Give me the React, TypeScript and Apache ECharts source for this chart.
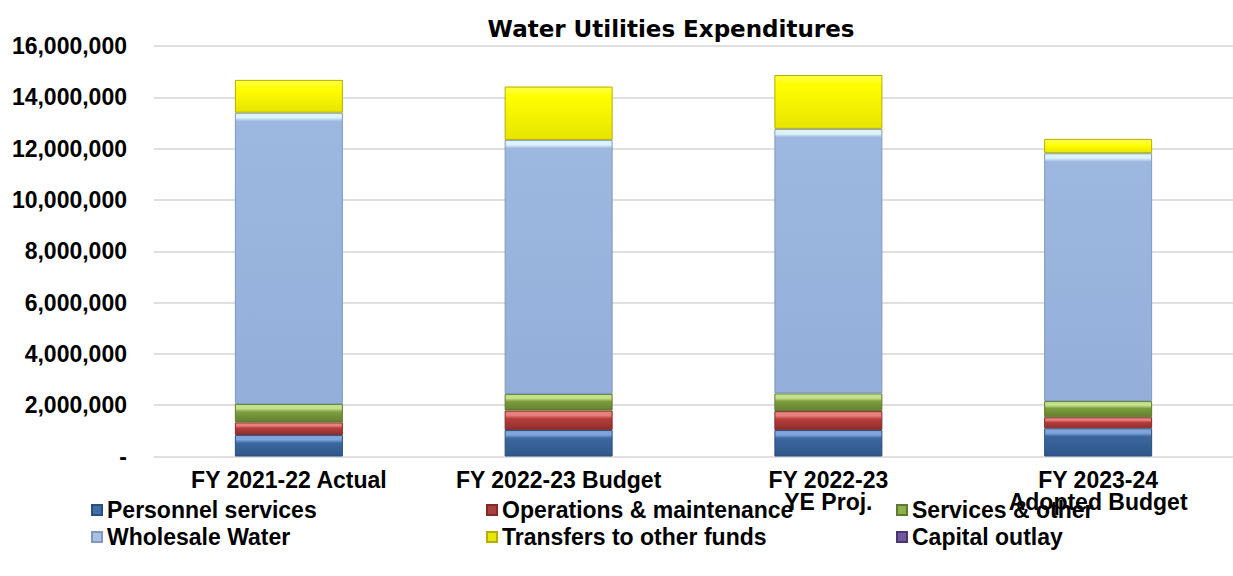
import React, { useEffect, useRef } from "react";
import * as echarts from "echarts";

const categories = [
  "FY 2021-22 Actual",
  "FY 2022-23 Budget",
  "FY 2022-23\nYE Proj.",
  "FY 2023-24\nAdopted Budget",
];
const seriesNames = [
  "Personnel services",
  "Operations & maintenance",
  "Services & other",
  "Wholesale Water",
  "Transfers to other funds",
  "Capital outlay",
];
const personnel = [840000, 1030000, 1030000, 1100000];
const operations = [490000, 760000, 740000, 430000];
const services = [720000, 650000, 690000, 630000];
const wholesale = [11350000, 9900000, 10310000, 9660000];
const transfers = [1280000, 2080000, 2100000, 560000];
const capital = [0, 0, 0, 0];
const yMin = 0;
const yMax = 16000000;
const yStep = 2000000;

const FONT = "'Liberation Sans', Arial, Helvetica, sans-serif";
const PLOT_TOP = 46;
const PLOT_BOTTOM = 119.5;
const PLOT_H = 576 - PLOT_TOP - PLOT_BOTTOM;

type Pal = { base: string; light: string; dark: string; border: string; legend: string };
const palettes: Pal[] = [
  { base: "#3C679F", light: "#7FA6DC", dark: "#2E568A", border: "#2A4E7E", legend: "#3F6DA8" },
  { base: "#B63E3B", light: "#E8807B", dark: "#8F2E2C", border: "#822A28", legend: "#A8403D" },
  { base: "#7C9E3E", light: "#C4E08C", dark: "#647F31", border: "#5E7A2E", legend: "#8DB04C" },
  { base: "#9DB8E0", light: "#DDF3FB", dark: "#93AED8", border: "#7F98C0", legend: "#A9C0E2" },
  { base: "#FFFF00", light: "#FFFF33", dark: "#E8E400", border: "#B5AE00", legend: "#E6E600" },
  { base: "#6A4E9A", light: "#9C86C6", dark: "#563E80", border: "#4C3672", legend: "#6F58A0" },
];

function bevel(v: number, p: Pal) {
  const h = (v / (yMax - yMin)) * PLOT_H;
  const f = h > 0 ? Math.min(0.45, 8 / h) : 0.2;
  return new echarts.graphic.LinearGradient(0, 0, 0, 1, [
    { offset: 0, color: p.light },
    { offset: f * 0.55, color: p.light },
    { offset: f, color: p.base },
    { offset: 1, color: p.dark },
  ]);
}

export default function App() {
  const ref = useRef<HTMLDivElement>(null);
  useEffect(() => {
    if (!ref.current) return;
    const chart = echarts.init(ref.current, null, { renderer: "svg" });
    const values = [personnel, operations, services, wholesale, transfers, capital];
    const series = values.map((vals, i) => ({
      name: seriesNames[i],
      type: "bar",
      stack: "total",
      barWidth: 108,
      itemStyle: { color: palettes[i].legend, borderColor: palettes[i].border, borderWidth: 1 },
      data: vals.map((v) => ({
        value: v,
        itemStyle: { color: bevel(v, palettes[i]), borderColor: palettes[i].border, borderWidth: v > 0 ? 1 : 0 },
      })),
    }));
    const legendText = { fontFamily: FONT, fontWeight: "bold", fontSize: 23, lineHeight: 24, color: "#000" };
    const legendCols = [0, 1, 2].map((c) => ({
      orient: "vertical",
      left: [86, 481, 891][c],
      top: 493,
      itemGap: 3,
      itemWidth: 10,
      itemHeight: 10,
      icon: "rect",
      selectedMode: false,
      textStyle: legendText,
      data: [seriesNames[c], seriesNames[c + 3]],
    }));
    chart.setOption({
      animation: false,
      backgroundColor: "#fff",
      title: {
        text: "Water Utilities Expenditures",
        left: 666,
        top: 12,
        textAlign: "center",
        textStyle: { fontFamily: "'DejaVu Sans', Verdana, sans-serif", fontWeight: "bold", fontSize: 23, color: "#000" },
      },
      legend: legendCols,
      grid: { left: 154, right: -8, top: PLOT_TOP, bottom: PLOT_BOTTOM, containLabel: false },
      xAxis: {
        type: "category",
        data: categories,
        axisLine: { show: false },
        axisTick: { show: false },
        axisLabel: {
          interval: 0,
          margin: 12,
          fontFamily: FONT,
          fontWeight: "bold",
          fontSize: 23,
          lineHeight: 22,
          color: "#000",
        },
      },
      yAxis: {
        type: "value",
        min: yMin,
        max: yMax,
        interval: yStep,
        axisLine: { show: false },
        axisTick: { show: false },
        splitLine: { lineStyle: { color: "#D4D4D4", width: 1.5 } },
        axisLabel: {
          margin: 27,
          fontFamily: FONT,
          fontWeight: "bold",
          fontSize: 23,
          color: "#000",
          formatter: (v: number) => (v === 0 ? "-" : v.toLocaleString("en-US")),
        },
      },
      series,
    });
    return () => chart.dispose();
  }, []);
  return (
    <div
      ref={ref}
      style={{ position: "fixed", left: 0, top: 0, width: 1233, height: 576, background: "#fff" }}
    />
  );
}
